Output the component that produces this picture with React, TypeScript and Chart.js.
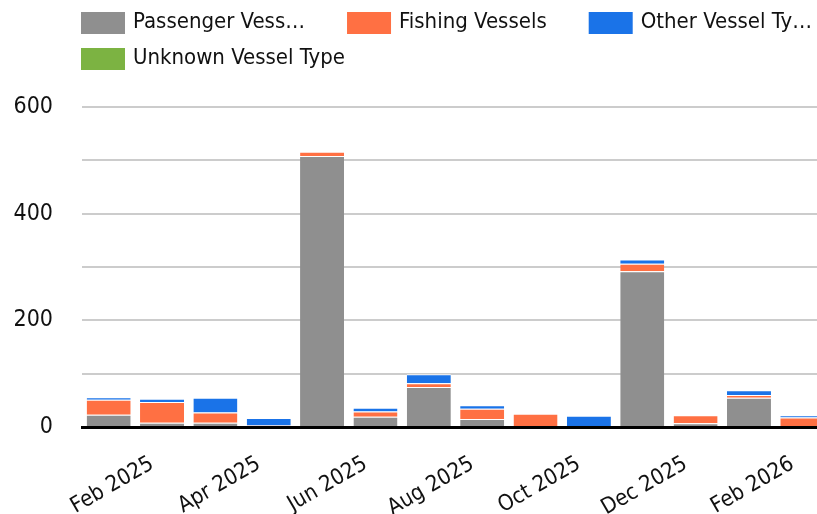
import React, { useEffect, useRef } from 'react';
import { Chart, registerables } from 'chart.js';

Chart.register(...registerables);

const FONT = '"DejaVu Sans Condensed", "DejaVu Sans", sans-serif';

const months = [
  'Jan 2025', 'Feb 2025', 'Mar 2025', 'Apr 2025', 'May 2025', 'Jun 2025', 'Jul 2025',
  'Aug 2025', 'Sep 2025', 'Oct 2025', 'Nov 2025', 'Dec 2025', 'Jan 2026', 'Feb 2026',
];

const seriesNames = ['Passenger Vessels', 'Fishing Vessels', 'Other Vessel Types', 'Unknown Vessel Type'];
const legendLabels = ['Passenger Vess…', 'Fishing Vessels', 'Other Vessel Ty…', 'Unknown Vessel Type'];
const seriesColors = ['#8f8f8f', '#ff7043', '#1a73e8', '#7cb342'];

const passengerVessels = [23, 8, 8, 0, 508, 19, 75, 15, 0, 0, 292, 7, 55, 0];
const fishingVessels = [28, 39, 19, 3, 8, 10, 7, 19, 25, 2, 14, 15, 5, 18];
const otherVesselTypes = [5, 6, 28, 14, 0, 7, 17, 7, 0, 19, 8, 0, 9, 4];
const unknownVesselType = [0, 0, 0, 0, 0, 0, 0, 0, 0, 0, 0, 0, 0, 0];

const yTicks = [0, 200, 400, 600];

const legendPlugin = {
  id: 'topLegend',
  afterDraw(chart: any) {
    const ctx = chart.ctx;
    ctx.save();
    ctx.font = `22px ${FONT}`;
    ctx.textBaseline = 'alphabetic';
    ctx.textAlign = 'left';
    const startX = chart.chartArea.left - 1;
    let x = startX;
    let y = 12;
    legendLabels.forEach((label, i) => {
      const tw = ctx.measureText(label).width;
      const w = 44 + 8 + tw;
      if (x + w > chart.width && x > startX) {
        x = startX;
        y += 36;
      }
      ctx.fillStyle = seriesColors[i];
      ctx.fillRect(x, y, 44, 22);
      ctx.fillStyle = '#111';
      ctx.fillText(label, x + 52, y + 15.5);
      x += w + 42;
    });
    ctx.restore();
  },
};

export default function App() {
  const ref = useRef<HTMLCanvasElement | null>(null);
  useEffect(() => {
    if (!ref.current) return;
    const data = [passengerVessels, fishingVessels, otherVesselTypes, unknownVesselType];
    const chart = new Chart(ref.current, {
      type: 'bar',
      data: {
        labels: months,
        datasets: data.map((d, i) => ({
          label: seriesNames[i],
          data: d,
          backgroundColor: seriesColors[i],
          borderColor: '#ffffff',
          borderWidth: { top: 1, right: 0, bottom: 0, left: 0 },
          categoryPercentage: 0.825,
          barPercentage: 1,
        })),
      },
      options: {
        responsive: false,
        animation: false,
        layout: { padding: { top: 107, left: 0, right: 0, bottom: 0 } },
        plugins: { legend: { display: false }, tooltip: { enabled: false } },
        scales: {
          x: {
            stacked: true,
            grid: { display: false, drawTicks: false },
            border: { display: true, color: '#000000', width: 3, z: 1 },
            afterFit: (s: any) => {
              s.height = 87;
              s.paddingLeft = 0;
              s.paddingRight = 0;
            },
            ticks: {
              autoSkip: false,
              minRotation: 30,
              maxRotation: 30,
              padding: 24,
              labelOffset: -10,
              color: '#111',
              font: { family: FONT, size: 22 },
              callback: (_v: any, i: number) => (i % 2 === 1 ? months[i] : ''),
            },
          },
          y: {
            stacked: true,
            min: 0,
            max: 600,
            afterFit: (s: any) => {
              s.width = 82;
              s.paddingTop = 0;
              s.paddingBottom = 0;
            },
            border: { display: false },
            grid: {
              drawTicks: false,
              lineWidth: 2,
              color: (c: any) => (c.tick && c.tick.value === 0 ? 'rgba(0,0,0,0)' : '#cccccc'),
            },
            ticks: {
              stepSize: 100,
              padding: 29,
              color: '#111',
              font: { family: FONT, size: 23 },
              callback: (v: any) => (yTicks.includes(Number(v)) ? String(v) : ''),
            },
          },
        },
      },
      plugins: [legendPlugin],
    });
    return () => chart.destroy();
  }, []);
  return (
    <div style={{ position: 'fixed', left: 0, top: 0, width: 817, height: 514, overflow: 'hidden', background: '#fff' }}>
      <canvas ref={ref} width={829} height={514} />
    </div>
  );
}
